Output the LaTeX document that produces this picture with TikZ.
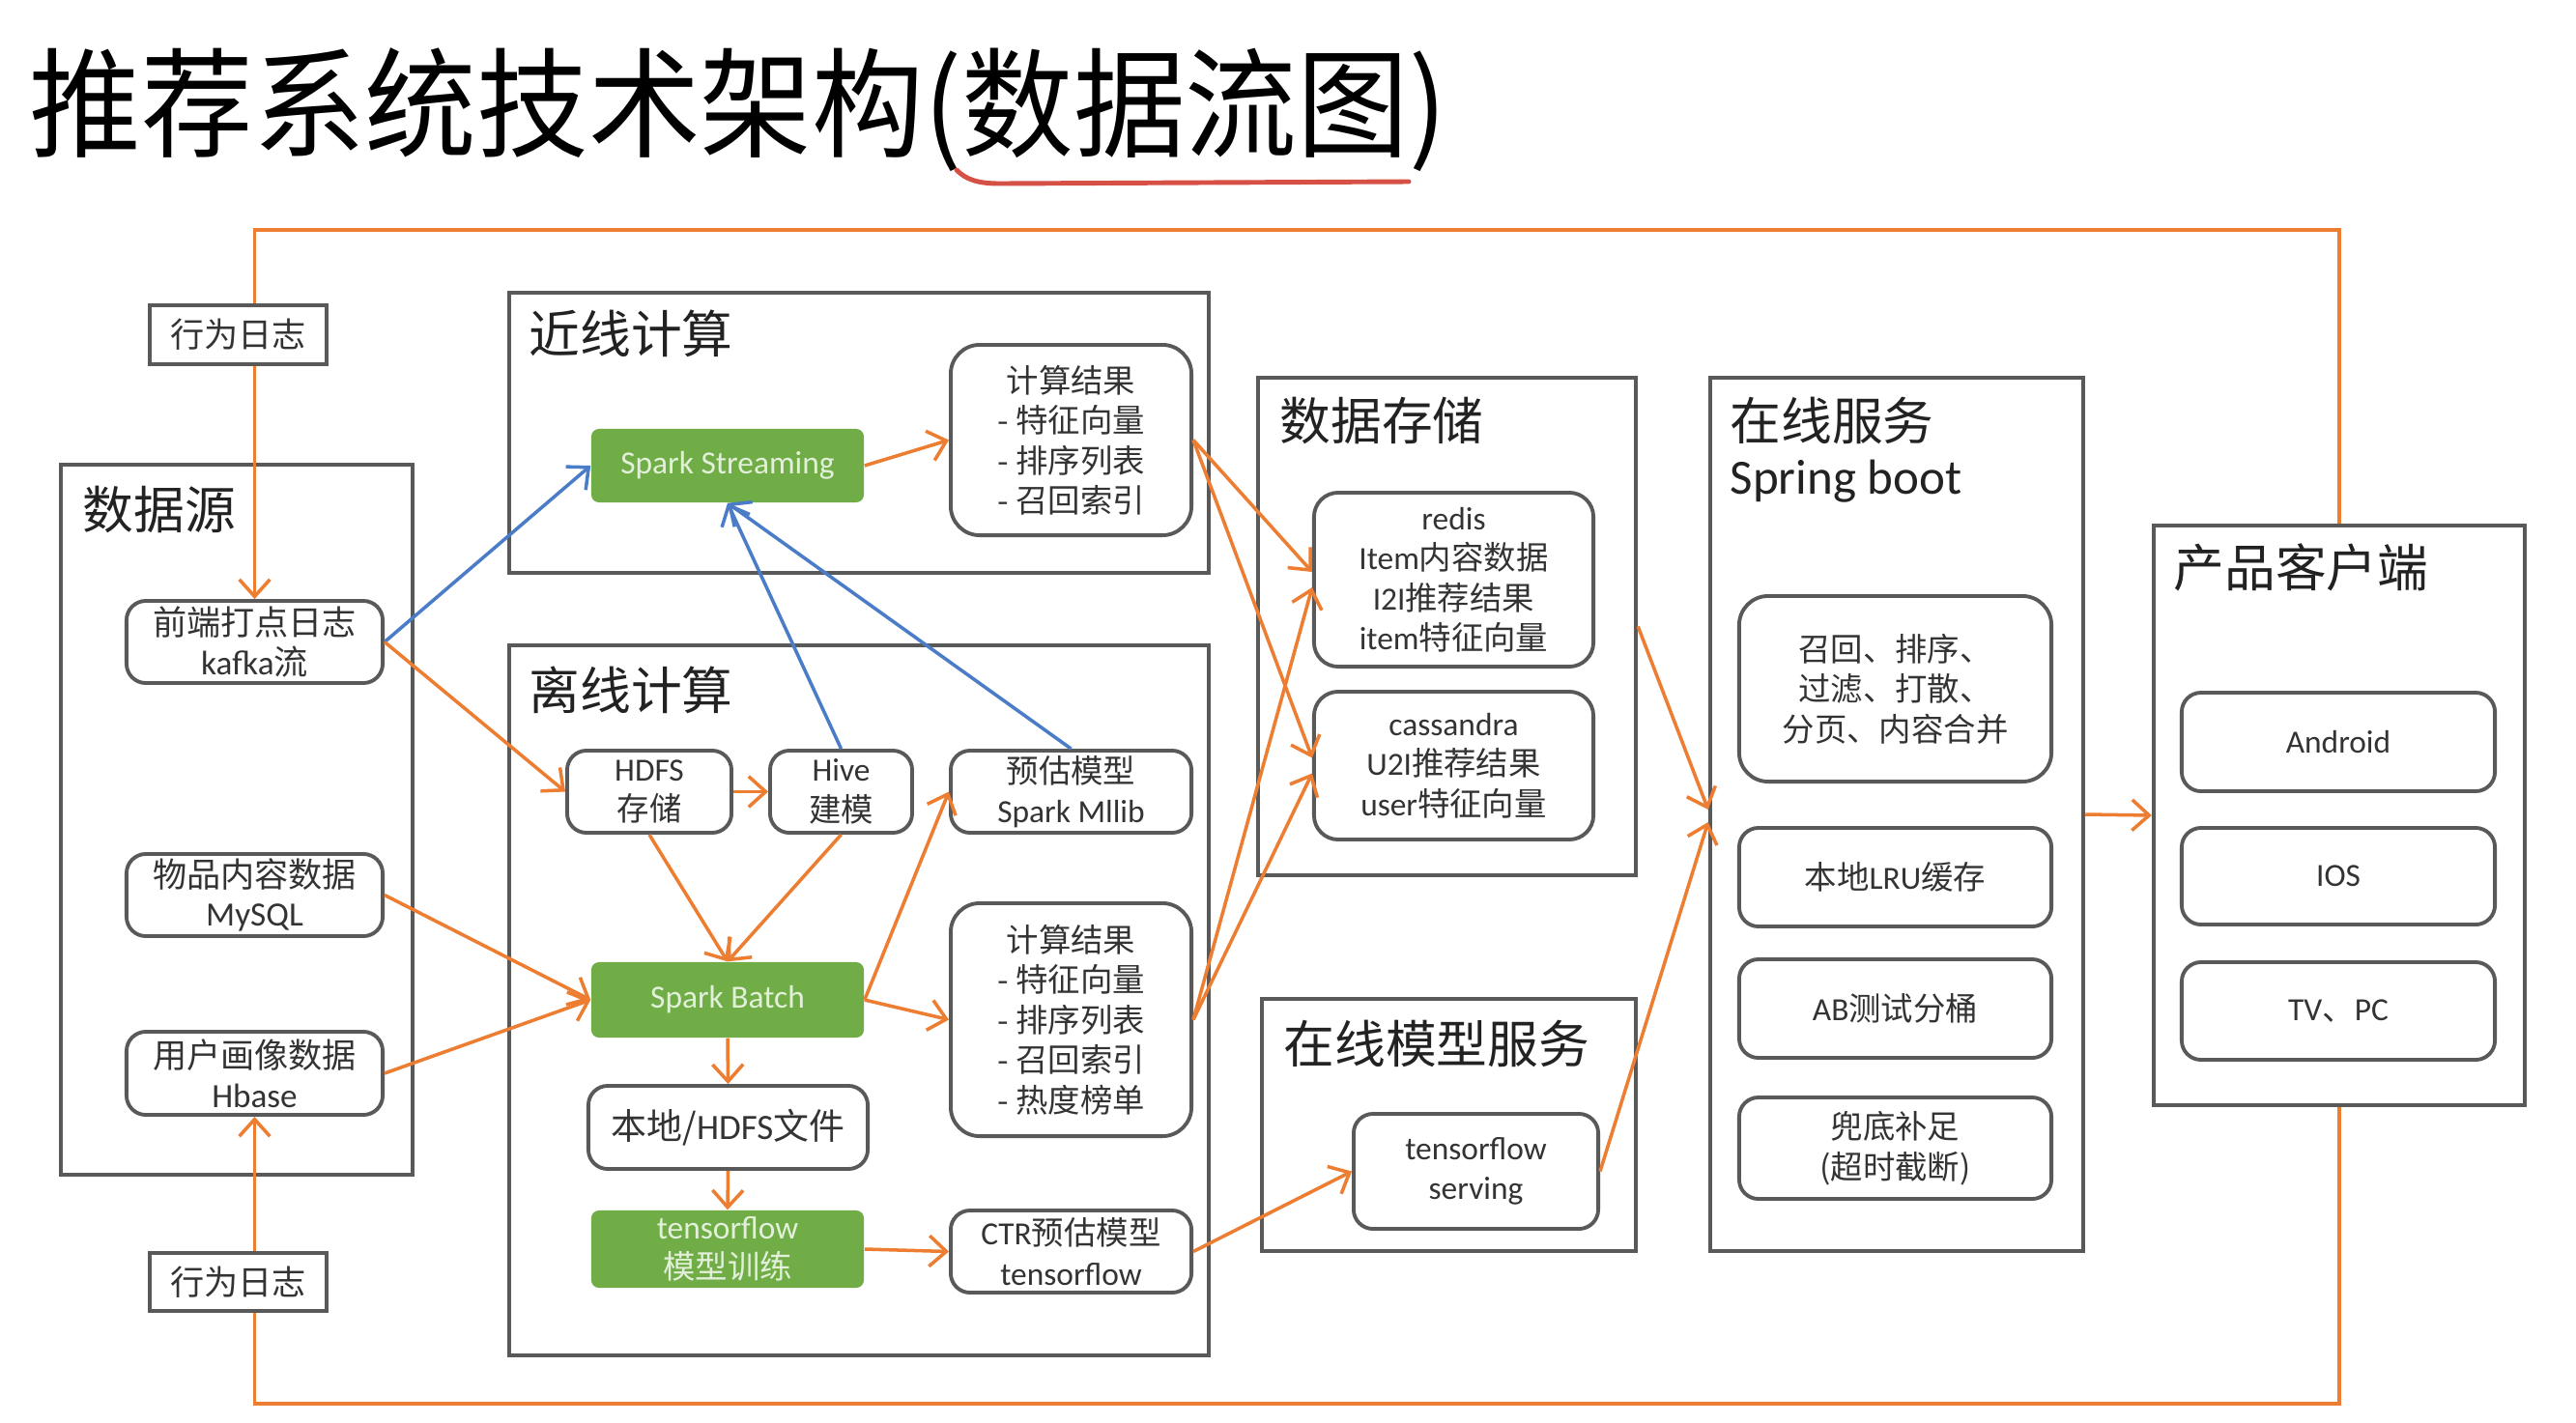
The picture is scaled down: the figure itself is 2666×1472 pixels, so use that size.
\documentclass[tikz,border=0pt]{standalone}
\usepackage{fontspec}
\setmainfont{Noto Sans CJK SC}
\newfontfamily\lat{Carlito}
\usetikzlibrary{arrows.meta,calc}
\definecolor{sorange}{RGB}{237,125,49}
\definecolor{sblue}{RGB}{74,124,200}
\definecolor{sgreen}{RGB}{112,173,71}
\definecolor{gtxt}{RGB}{226,240,217}
\definecolor{bgray}{RGB}{89,89,89}
\definecolor{txt}{RGB}{51,51,51}
\definecolor{ttxt}{RGB}{34,34,34}
\definecolor{ulred}{RGB}{214,80,70}
\tikzset{
  cont/.style={draw=bgray, line width=1.2pt, inner sep=0pt, rectangle},
  rbox/.style={draw=bgray, fill=white, line width=1.1pt, rounded corners=0.2cm, align=center,
    font=\fontsize{9.5}{11.8}\selectfont, text=txt, inner sep=0pt},
  bigr/.style={rbox, rounded corners=0.3cm},
  sqbox/.style={draw=bgray, fill=white, line width=1.1pt, align=center,
    font=\fontsize{10}{12}\selectfont, text=txt, inner sep=0pt},
  gbox/.style={fill=sgreen, draw=none, rounded corners=0.08cm, text=gtxt, align=center,
    font=\fontsize{9.5}{11.8}\selectfont, inner sep=0pt},
  ctitle/.style={anchor=west, inner sep=0pt, font=\fontsize{15}{18}\selectfont, text=ttxt},
  oline/.style={draw=sorange, line width=1pt},
  oarr/.style={draw=sorange, line width=1pt, -{Straight Barb[length=5pt,width=9pt]}},
  barr/.style={draw=sblue, line width=1pt, -{Straight Barb[length=5pt,width=9pt]}},
}
\begin{document}
\begin{tikzpicture}[x=0.01cm,y=-0.01cm]
\useasboundingbox (0,0) rectangle (2666,1472);
\fill[white] (0,0) rectangle (2666,1472);

% title
\node[anchor=west, inner sep=0pt, font=\fontsize{35}{40}\selectfont, text=black] (title) at (30,114) {\scalebox{0.94}[1]{推荐系统技术架构(数据流图)}};
\draw[ulred, line width=1.4pt, line cap=round] (990,176) .. controls (1000,186) and (1012,190) .. (1035,190) -- (1458,188);

% containers
\node[cont, minimum width=3.64cm, minimum height=7.35cm] (src) at (245,848.5) {};
\node[ctitle] (srct) at (85,527) {数据源};
\node[cont, minimum width=7.24cm, minimum height=2.90cm] (near) at (889,448) {};
\node[ctitle] (neart) at (547,345) {近线计算};
\node[cont, minimum width=7.24cm, minimum height=7.35cm] (off) at (889,1035.5) {};
\node[ctitle] (offt) at (547,714) {离线计算};
\node[cont, minimum width=3.91cm, minimum height=5.15cm] (ds) at (1497.5,648.5) {};
\node[ctitle] (dst) at (1324,435) {数据存储};
\node[cont, minimum width=3.87cm, minimum height=2.61cm] (oms) at (1499.5,1164.5) {};
\node[ctitle] (omst) at (1328,1080) {在线模型服务};
\node[cont, minimum width=3.86cm, minimum height=9.04cm] (os) at (1963,843) {};
\node[ctitle] (ost) at (1790,435) {在线服务};
\node[ctitle, font=\fontsize{14.5}{17}\selectfont\lat] (ost2) at (1790,498) {Spring boot};
\node[cont, minimum width=3.84cm, minimum height=6.00cm] (client) at (2421,844) {};
\node[ctitle] (clientt) at (2249,587) {产品客户端};

% behaviour logs
\node[sqbox, minimum width=1.83cm, minimum height=0.61cm] (xw1) at (246.5,346.5) {行为日志};
\node[sqbox, minimum width=1.83cm, minimum height=0.60cm] (xw2) at (246.5,1327) {行为日志};

% data source boxes
\node[rbox, font=\fontsize{10}{11.6}\selectfont, minimum width=2.65cm, minimum height=0.85cm] (kafka) at (263.5,664.5) {前端打点日志\\{\lat kafka}流};
\node[rbox, font=\fontsize{10}{11.6}\selectfont, minimum width=2.65cm, minimum height=0.85cm] (mysql) at (263.5,926.5) {物品内容数据\\{\lat MySQL}};
\node[rbox, font=\fontsize{10}{11.6}\selectfont, minimum width=2.65cm, minimum height=0.86cm] (hbase) at (263.5,1111) {用户画像数据\\{\lat Hbase}};

% near-line
\node[gbox, minimum width=2.82cm, minimum height=0.76cm] (ss) at (753,482) {\lat Spark Streaming};
\node[bigr, minimum width=2.49cm, minimum height=1.97cm] (r1) at (1108.5,455.5) {计算结果\\- 特征向量\\- 排序列表\\- 召回索引};

% offline
\node[rbox, minimum width=1.70cm, minimum height=0.85cm] (hdfs) at (672,819.5) {{\lat HDFS}\\存储};
\node[rbox, minimum width=1.47cm, minimum height=0.85cm] (hive) at (870.5,819.5) {{\lat Hive}\\建模};
\node[rbox, minimum width=2.49cm, minimum height=0.85cm] (pred) at (1108.5,819.5) {预估模型\\{\lat Spark Mllib}};
\node[gbox, minimum width=2.82cm, minimum height=0.78cm] (sb) at (753,1035) {\lat Spark Batch};
\node[bigr, minimum width=2.49cm, minimum height=2.41cm] (r2) at (1108.5,1055.5) {计算结果\\- 特征向量\\- 排序列表\\- 召回索引\\- 热度榜单};
\node[rbox, font=\fontsize{10.5}{12}\selectfont, minimum width=2.89cm, minimum height=0.86cm] (local) at (753.5,1167) {本地/{\lat HDFS}文件};
\node[gbox, minimum width=2.82cm, minimum height=0.80cm] (tf) at (753,1293) {{\lat tensorflow}\\模型训练};
\node[rbox, minimum width=2.49cm, minimum height=0.85cm] (ctr) at (1108.5,1295.5) {{\lat CTR}预估模型\\{\lat tensorflow}};

% storage
\node[rbox, minimum width=2.89cm, minimum height=1.80cm, rounded corners=0.25cm] (redis) at (1504.5,600) {{\lat redis}\\{\lat Item}内容数据\\{\lat I2I}推荐结果\\{\lat item}特征向量};
\node[rbox, minimum width=2.89cm, minimum height=1.53cm, rounded corners=0.25cm] (cass) at (1504.5,792.5) {{\lat cassandra}\\{\lat U2I}推荐结果\\{\lat user}特征向量};

% online model service
\node[rbox, minimum width=2.53cm, minimum height=1.19cm] (tfs) at (1527.5,1212.5) {\lat tensorflow\\\lat serving};

% online service
\node[bigr, minimum width=3.23cm, minimum height=1.92cm] (recall) at (1961.5,713) {召回、排序、\\过滤、打散、\\分页、内容合并};
\node[rbox, minimum width=3.23cm, minimum height=1.02cm] (lru) at (1961.5,908) {本地{\lat LRU}缓存};
\node[rbox, minimum width=3.23cm, minimum height=1.02cm] (ab) at (1961.5,1044) {{\lat AB}测试分桶};
\node[rbox, minimum width=3.23cm, minimum height=1.05cm] (fb) at (1961.5,1188.5) {兜底补足\\(超时截断)};

% clients
\node[rbox, minimum width=3.24cm, minimum height=1.02cm] (android) at (2420,768) {\lat Android};
\node[rbox, minimum width=3.24cm, minimum height=1.00cm] (ios) at (2420,907) {\lat IOS};
\node[rbox, minimum width=3.24cm, minimum height=1.01cm] (tvpc) at (2420,1046.5) {{\lat TV}、{\lat PC}};

% outer feedback loop
\coordinate (tl) at (263.5,238);
\coordinate (bl) at (263.5,1453);
\draw[oline] (client.north) |- (tl) -- (kafka.north |- xw1.north);
\draw[oarr] (kafka.north |- xw1.south) -- (kafka.north);
\draw[oline] (client.south) |- (bl) -- (hbase.south |- xw2.south);
\draw[oarr] (hbase.south |- xw2.north) -- (hbase.south);

% blue arrows
\draw[barr] (kafka.east) -- (ss.west);
\draw[barr] (hive.north) -- (ss.south);
\draw[barr] (pred.north) -- (ss.south);

% orange arrows
\draw[oarr] (kafka.east) -- (hdfs.west);
\draw[oarr] (hdfs.east) -- (hive.west);
\draw[oarr] (hdfs.south) -- (sb.north);
\draw[oarr] (hive.south) -- (sb.north);
\draw[oarr] (mysql.east) -- (sb.west);
\draw[oarr] (hbase.east) -- (sb.west);
\draw[oarr] (ss.east) -- (r1.west);
\draw[oarr] (sb.east) -- (pred.west);
\draw[oarr] (sb.east) -- (r2.west);
\draw[oarr] (sb.south) -- (local.north);
\draw[oarr] (local.south) -- (tf.north);
\draw[oarr] (tf.east) -- (ctr.west);
\draw[oarr] (ctr.east) -- (tfs.west);
\draw[oarr] (r1.east) -- ($(redis.west)+(0,-8)$);
\draw[oarr] (r1.east) -- ($(cass.west)+(0,-8)$);
\draw[oarr] (r2.east) -- ($(redis.west)+(0,8)$);
\draw[oarr] (r2.east) -- ($(cass.west)+(0,8)$);
\draw[oarr] (ds.east) -- ($(os.west)+(0,-5)$);
\draw[oarr] (tfs.east) -- ($(os.west)+(0,8)$);
\draw[oarr] (os.east) -- (client.west);
\end{tikzpicture}
\end{document}
